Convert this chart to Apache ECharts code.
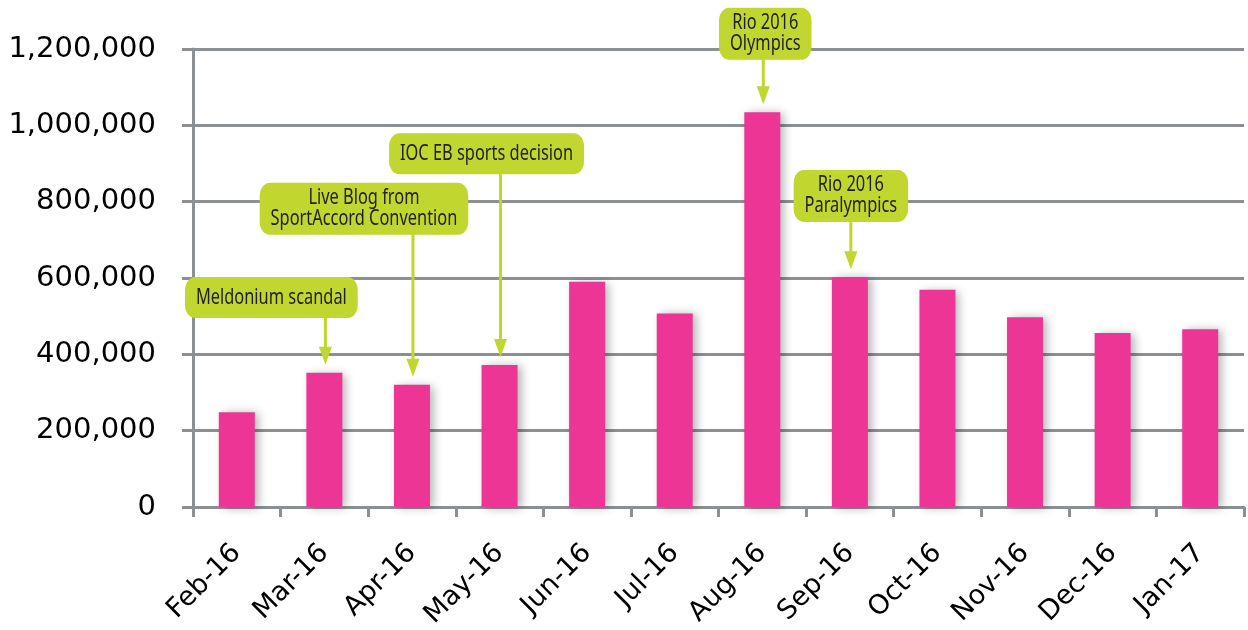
<!DOCTYPE html>
<html><head><meta charset="utf-8">
<script src="https://cdn.jsdelivr.net/npm/echarts@6/dist/echarts.min.js"></script>
<style>html,body{margin:0;padding:0;background:#fff}#c{width:1248px;height:630px}</style>
</head><body><div id="c"></div>
<script>
// ---- data ----
const months = ['Feb-16','Mar-16','Apr-16','May-16','Jun-16','Jul-16','Aug-16','Sep-16','Oct-16','Nov-16','Dec-16','Jan-17'];
const visits = [248000, 352000, 320000, 372000, 590000, 507000, 1034000, 602000, 569000, 497000, 456000, 466000];
const yTickValues = [0, 200000, 400000, 600000, 800000, 1000000, 1200000];
const annMonths = ['Mar-16','Apr-16','May-16','Aug-16','Sep-16'];
const annLabels = ['Meldonium scandal','Live Blog from\nSportAccord Convention','IOC EB sports decision','Rio 2016\nOlympics','Rio 2016\nParalympics'];

// ---- layout (annotation box placement) ----
const annBoxLevel = [495000, 713000, 872000, 1172000, 747000];
const annBoxShift = [-53, -48, -13, 3, 1];

const GRAY = '#8d9092';
const PINK = '#ec3595';
const LIME = '#c1d62f';
const TEXT = '#231f20';
const SQUEEZE = 0.78;

const chart = echarts.init(document.getElementById('c'), null, {renderer: 'canvas'});
const annData = annMonths.map((m, i) => [m, visits[months.indexOf(m)], i]);

chart.setOption({
  animation: false,
  backgroundColor: '#ffffff',
  grid: {left: 193, right: 4, top: 49, bottom: 123, containLabel: false, outerBoundsMode: 'none'},
  xAxis: {
    type: 'category',
    data: months,
    boundaryGap: true,
    axisLine: {show: true, lineStyle: {color: GRAY, width: 3}},
    axisTick: {show: true, interval: 0, length: 10, lineStyle: {color: GRAY, width: 3}},
    axisLabel: {interval: 0, rotate: 45, margin: 42, color: '#000', fontFamily: 'DejaVu Sans', fontSize: 27}
  },
  yAxis: {
    type: 'value',
    min: yTickValues[0],
    max: yTickValues[yTickValues.length - 1],
    interval: yTickValues[1] - yTickValues[0],
    axisLine: {show: true, lineStyle: {color: GRAY, width: 3}},
    axisTick: {show: true, length: 11, lineStyle: {color: GRAY, width: 3}},
    splitLine: {show: true, lineStyle: {color: GRAY, width: 3}},
    axisLabel: {
      margin: 37, color: '#000', fontFamily: 'DejaVu Sans', fontSize: 29,
      formatter: v => v.toLocaleString('en-US')
    }
  },
  series: [
    {
      type: 'bar',
      data: visits,
      barWidth: 36,
      itemStyle: {
        color: PINK,
        shadowColor: 'rgba(0,0,0,0.3)',
        shadowBlur: 9,
        shadowOffsetX: 4,
        shadowOffsetY: 1
      },
      z: 3
    },
    {
      type: 'custom',
      data: annData,
      clip: false,
      z: 10,
      encode: {x: 0, y: 1},
      renderItem: function (params, api) {
        const i = api.value(2);
        const tip = api.coord([api.value(0), api.value(1)]);
        const boxB = api.coord([api.value(0), annBoxLevel[i]])[1];
        const x = tip[0] + 1;
        const tipY = tip[1] - 8;
        const lines = annLabels[i].split('\n').length;
        const pv = lines === 1 ? 10 : 5;
        return {
          type: 'group',
          children: [
            {type: 'line', shape: {x1: x, y1: boxB - 2, x2: x, y2: tipY - 14}, style: {stroke: LIME, lineWidth: 3}},
            {type: 'polygon', shape: {points: [[x - 6.5, tipY - 18], [x + 6.5, tipY - 18], [x, tipY]]}, style: {fill: LIME}},
            {
              type: 'text', x: tip[0] + annBoxShift[i], y: boxB, scaleX: SQUEEZE, scaleY: 1,
              style: {
                text: annLabels[i],
                fontFamily: '"Noto Sans"',
                fontSize: 21,
                fill: TEXT,
                align: 'center',
                verticalAlign: 'bottom',
                lineHeight: 21,
                backgroundColor: LIME,
                borderRadius: 13,
                padding: [pv, 14]
              }
            }
          ]
        };
      }
    }
  ]
});
</script>
</body></html>
